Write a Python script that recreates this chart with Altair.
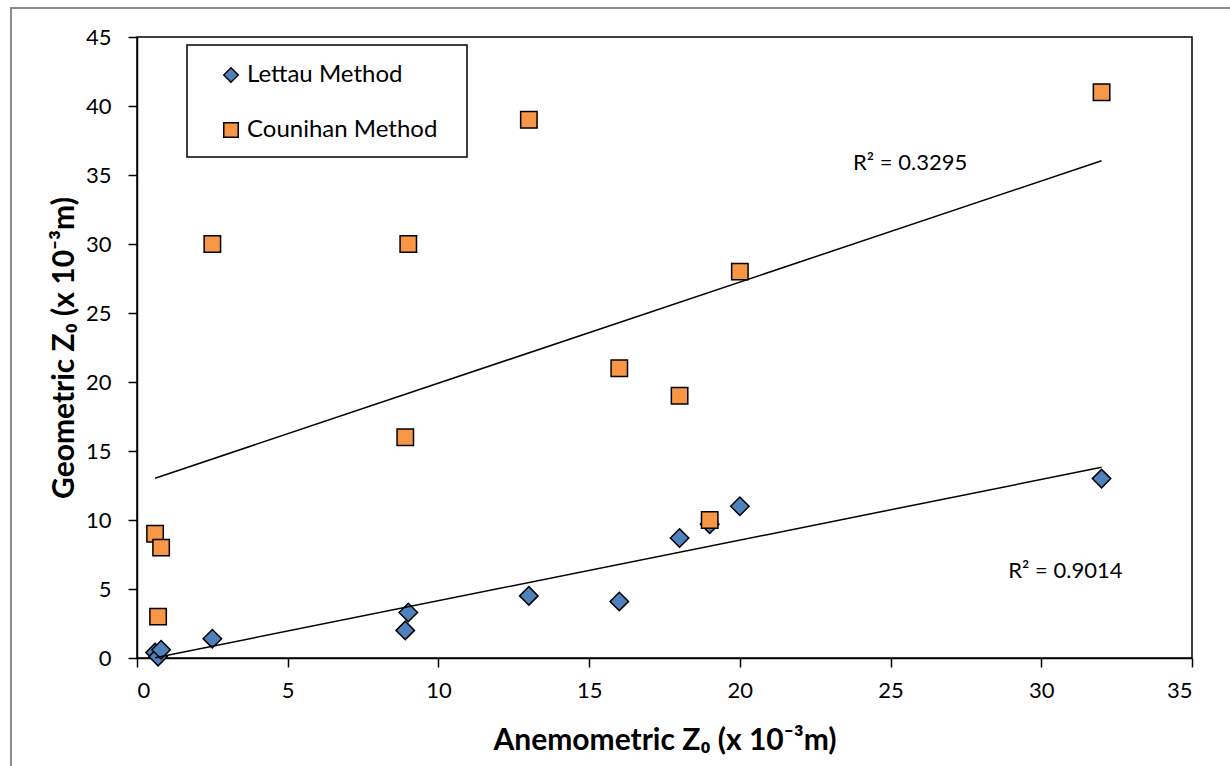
import altair as alt
import pandas as pd

# ---- data ----
series_names = ["Lettau Method", "Counihan Method"]
series_colors = ["#4F81BD", "#F79646"]
series_shapes = ["diamond", "square"]

lettau_x = [0.6, 0.7, 0.8, 2.5, 8.9, 9.0, 13.0, 16.0, 18.0, 19.0, 20.0, 32.0]
lettau_y = [0.4, 0.1, 0.6, 1.4, 2.0, 3.3, 4.5, 4.1, 8.7, 9.7, 11.0, 13.0]

counihan_x = [0.6, 0.8, 0.7, 2.5, 8.9, 9.0, 13.0, 16.0, 18.0, 19.0, 20.0, 32.0]
counihan_y = [9, 8, 3, 30, 16, 30, 39, 21, 19, 10, 28, 41]

x_ticks = [0, 5, 10, 15, 20, 25, 30, 35]
y_ticks = [0, 5, 10, 15, 20, 25, 30, 35, 40, 45]

r2_labels = ["R² = 0.3295", "R² = 0.9014"]
r2_x = [25.65, 30.8]
r2_y = [35.9, 6.3]

x_title = "Anemometric  Z₀ (x 10⁻³m)"
y_title = "Geometric Z₀ (x 10⁻³m)"

FONT = "Lato"

df = pd.DataFrame(
    {
        "x": lettau_x + counihan_x,
        "y": lettau_y + counihan_y,
        "series": [series_names[0]] * len(lettau_x) + [series_names[1]] * len(counihan_x),
    }
)
ann = pd.DataFrame({"x": r2_x, "y": r2_y, "label": r2_labels})
leg_df = pd.DataFrame({"series": series_names})

W, H = 1055, 621

xscale = alt.Scale(domain=[0, 35], nice=False, zero=False)
yscale = alt.Scale(domain=[0, 45], nice=False, zero=False)
shape_scale = alt.Scale(domain=series_names, range=series_shapes)
fill_scale = alt.Scale(domain=series_names, range=series_colors)

base = alt.Chart(df)
one = pd.DataFrame({"a": [0]})

# outer grey frame (decoration)
frame = alt.Chart(one).mark_rect(fill=None, stroke="#8c8c8c", strokeWidth=2).encode(
    x=alt.value(-126), x2=alt.value(W + 60), y=alt.value(-29), y2=alt.value(H + 200)
)

# legend box
legend_box = alt.Chart(one).mark_rect(fill=None, stroke="black", strokeWidth=1.5).encode(
    x=alt.value(50), x2=alt.value(330), y=alt.value(8), y2=alt.value(120)
)

points = base.mark_point(filled=True, stroke="black", strokeWidth=1.5, opacity=1).encode(
    x=alt.X(
        "x:Q",
        scale=xscale,
        axis=alt.Axis(values=x_ticks, title=x_title, labelPadding=13, titlePadding=24),
    ),
    y=alt.Y(
        "y:Q",
        scale=yscale,
        axis=alt.Axis(values=y_ticks, title=y_title, labelPadding=17, titlePadding=6),
    ),
    shape=alt.Shape("series:N", scale=shape_scale, legend=None),
    fill=alt.Fill("series:N", scale=fill_scale, legend=None),
    size=alt.Size("series:N", scale=alt.Scale(domain=series_names, range=[340, 270]), legend=None),
)

lines = base.transform_regression("x", "y", groupby=["series"]).mark_line(
    color="black", strokeWidth=1.5
).encode(x=alt.X("x:Q", scale=xscale), y=alt.Y("y:Q", scale=yscale), detail="series:N")

texts = alt.Chart(ann).mark_text(font=FONT, fontSize=22, color="black").encode(
    x=alt.X("x:Q", scale=xscale), y=alt.Y("y:Q", scale=yscale), text="label:N"
)

# legend entries (symbols through the shared shape/fill scales)
legend_layers = []
for i, name in enumerate(series_names):
    entry = alt.Chart(leg_df).transform_filter(alt.datum.series == name)
    ypix = 38 + 55 * i
    legend_layers.append(
        entry.mark_point(filled=True, stroke="black", strokeWidth=1.5, opacity=1, size=210).encode(
            x=alt.value(94),
            y=alt.value(ypix),
            shape=alt.Shape("series:N", scale=shape_scale, legend=None),
            fill=alt.Fill("series:N", scale=fill_scale, legend=None),
        )
    )
    legend_layers.append(
        entry.mark_text(align="left", baseline="middle", font=FONT, fontSize=24, color="black").encode(
            x=alt.value(110), y=alt.value(ypix), text="series:N"
        )
    )

chart = (
    alt.layer(frame, legend_box, points, lines, texts, *legend_layers)
    .properties(
        width=W,
        height=H,
        autosize=alt.AutoSizeParams(type="none"),
        padding={"left": 137, "top": 37, "right": 38, "bottom": 108},
        background="white",
    )
    .configure_view(stroke="black", strokeWidth=1.5)
    .configure_axis(
        grid=False,
        domainColor="black",
        domainWidth=1.5,
        tickColor="black",
        tickWidth=1.5,
        tickSize=9,
        labelFont=FONT,
        labelFontSize=22,
        labelColor="black",
        titleFont=FONT,
        titleFontSize=30,
        titleFontWeight="bold",
        titleColor="black",
    )
)

chart.save("out.html", embed_options={"renderer": "svg", "actions": False})
